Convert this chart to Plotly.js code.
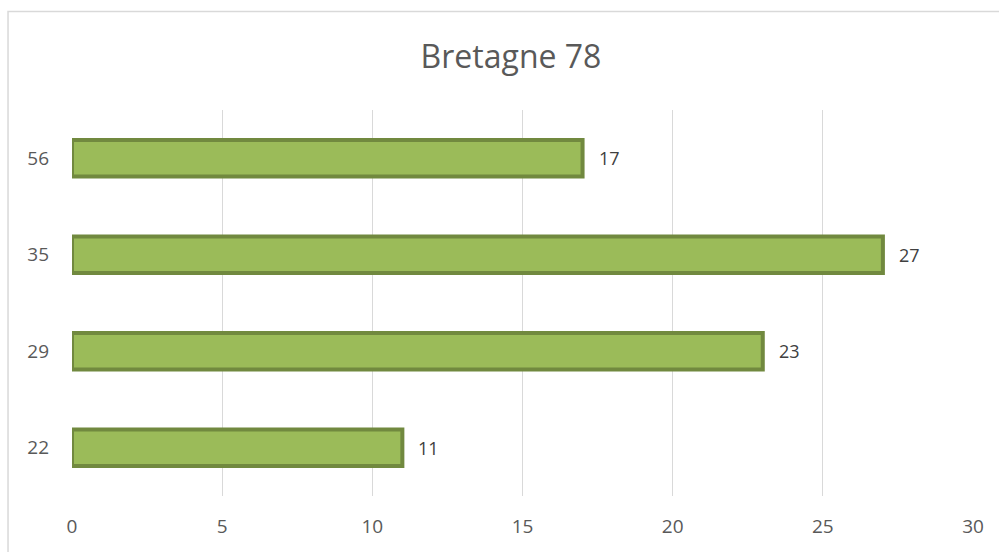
<!DOCTYPE html>
<html>
<head>
<meta charset="utf-8">
<script src="https://cdn.plot.ly/plotly-3.0.1.min.js"></script>
<style>html,body{margin:0;padding:0;background:#fff;}#chart{width:999px;height:552px;}</style>
</head>
<body>
<div id="chart"></div>
<script>
const categories = ["22", "29", "35", "56"];
const values = [11, 23, 27, 17];
const xTicks = [0, 5, 10, 15, 20, 25, 30];
const chartTitle = "Bretagne 78";

const trace = {
  type: "bar",
  orientation: "h",
  y: categories,
  x: values,
  marker: {color: "#9BBB59", line: {color: "#71893F", width: 4}},
  hoverinfo: "x+y"
};

const labels = categories.map((c, i) => ({
  x: values[i], y: i, xref: "x", yref: "y",
  text: String(values[i]), showarrow: false,
  xanchor: "left", yanchor: "middle", xshift: 14,
  font: {family: "Open Sans, sans-serif", size: 18, color: "#404040"}
}));

const layout = {
  width: 999, height: 552,
  margin: {l: 72, r: 26, t: 110, b: 56},
  paper_bgcolor: "#ffffff", plot_bgcolor: "#ffffff",
  showlegend: false,
  bargap: 0.62,
  title: {text: chartTitle, x: 0.5115, xanchor: "center", y: 0.897, yanchor: "middle",
          font: {family: "Open Sans, sans-serif", size: 32, color: "#595959"}},
  xaxis: {range: [0, 30], tickvals: xTicks, ticktext: xTicks.map(String),
          showgrid: true, gridcolor: "#D9D9D9", gridwidth: 1, zeroline: false,
          showline: false, ticks: "", ticklabelstandoff: 17,
          tickfont: {family: "Open Sans, sans-serif", size: 19, color: "#595959"}},
  yaxis: {type: "category", categoryorder: "array", categoryarray: categories,
          range: [-0.5, categories.length - 0.5], autorange: false,
          showgrid: false, zeroline: false,
          showline: false, ticks: "", ticklabelstandoff: 22,
          tickfont: {family: "Open Sans, sans-serif", size: 19, color: "#595959"}},
  annotations: labels,
  shapes: [{type: "rect", xref: "paper", yref: "paper",
            x0: -0.071, x1: 1.2, y0: -0.3, y1: 1.255,
            line: {color: "#D9D9D9", width: 1.5}, fillcolor: "rgba(0,0,0,0)", layer: "below"}]
};

Plotly.newPlot("chart", [trace], layout, {displayModeBar: false, staticPlot: true});
</script>
</body>
</html>
